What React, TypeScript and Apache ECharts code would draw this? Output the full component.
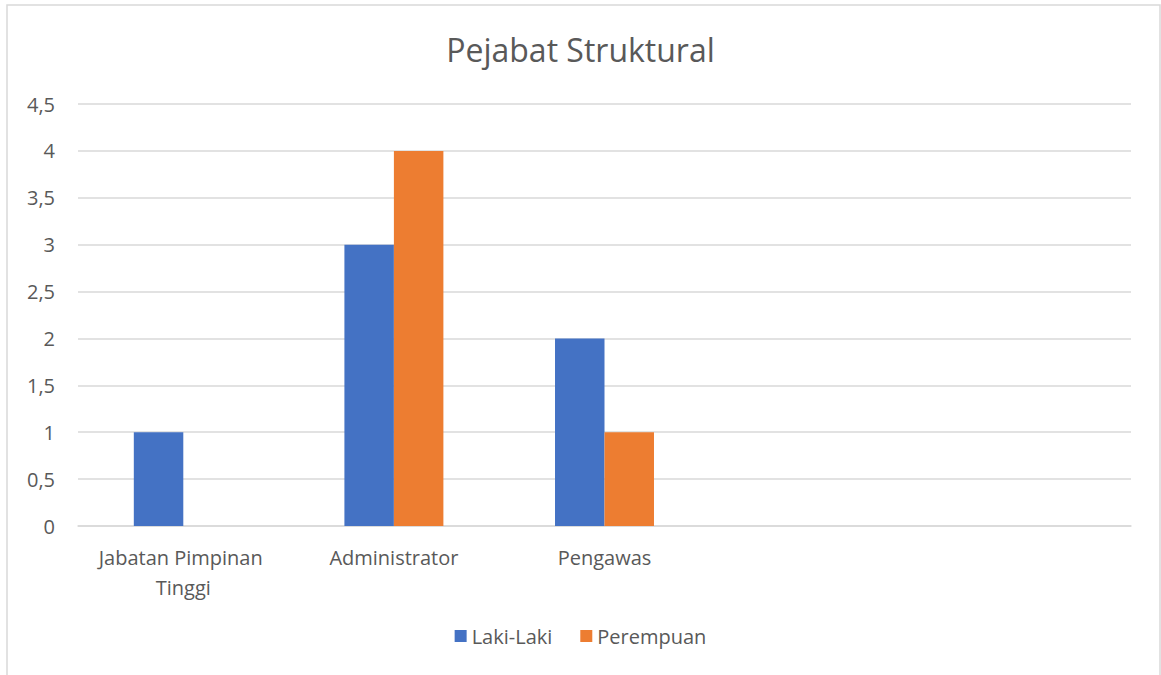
import React, { useEffect, useRef } from "react";
import * as echarts from "echarts";

const categories = ["Jabatan Pimpinan Tinggi", "Administrator", "Pengawas", "", ""];
const lakiLaki = [1, 3, 2, null, null];
const perempuan = [0, 4, 1, null, null];
const seriesNames = ["Laki-Laki", "Perempuan"];
const titleText = "Pejabat Struktural";

const FONT = "'Open Sans', 'Noto Sans', sans-serif";
const GRAY = "#595959";

export default function App() {
  const ref = useRef<HTMLDivElement>(null);
  useEffect(() => {
    if (!ref.current) return;
    const chart = echarts.init(ref.current, undefined, { renderer: "svg" });
    chart.setOption({
      animation: false,
      backgroundColor: "#ffffff",
      title: {
        text: titleText,
        left: "center",
        top: 28,
        textStyle: { color: GRAY, fontSize: 32, fontWeight: "normal", fontFamily: FONT },
      },
      graphic: [
        {
          type: "rect",
          shape: { x: 7, y: 5, width: 1153, height: 690 },
          style: { fill: "none", stroke: "#d9d9d9", lineWidth: 1.5 },
          silent: true,
        },
      ],
      legend: {
        bottom: 24,
        left: "center",
        itemWidth: 12,
        itemHeight: 12,
        itemGap: 28,
        icon: "rect",
        textStyle: { color: GRAY, fontSize: 20, fontFamily: FONT },
        data: seriesNames,
      },
      grid: { left: 78, right: 30, top: 104, bottom: 149 },
      xAxis: {
        type: "category",
        data: categories,
        axisLine: { lineStyle: { color: "#d9d9d9", width: 1.5 } },
        axisTick: { show: false },
        axisLabel: {
          interval: 0,
          color: GRAY,
          fontSize: 20,
          fontFamily: FONT,
          margin: 16,
          width: 200,
          overflow: "break",
          lineHeight: 30,
        },
      },
      yAxis: {
        type: "value",
        min: 0,
        max: 4.5,
        interval: 0.5,
        axisLine: { show: false },
        axisTick: { show: false },
        splitLine: { lineStyle: { color: "#d9d9d9", width: 1.5 } },
        axisLabel: {
          color: GRAY,
          fontSize: 20,
          fontFamily: FONT,
          margin: 23,
          formatter: (v: number) => String(v).replace(".", ","),
        },
      },
      series: [
        {
          name: seriesNames[0],
          type: "bar",
          data: lakiLaki,
          itemStyle: { color: "#4472C4" },
          barGap: "0%",
          barCategoryGap: "53%",
        },
        {
          name: seriesNames[1],
          type: "bar",
          data: perempuan,
          itemStyle: { color: "#ED7D31" },
          barGap: "0%",
          barCategoryGap: "53%",
        },
      ],
    });
    return () => chart.dispose();
  }, []);
  return (
    <div
      ref={ref}
      style={{ position: "absolute", left: 0, top: 0, width: 1161, height: 675 }}
    />
  );
}
